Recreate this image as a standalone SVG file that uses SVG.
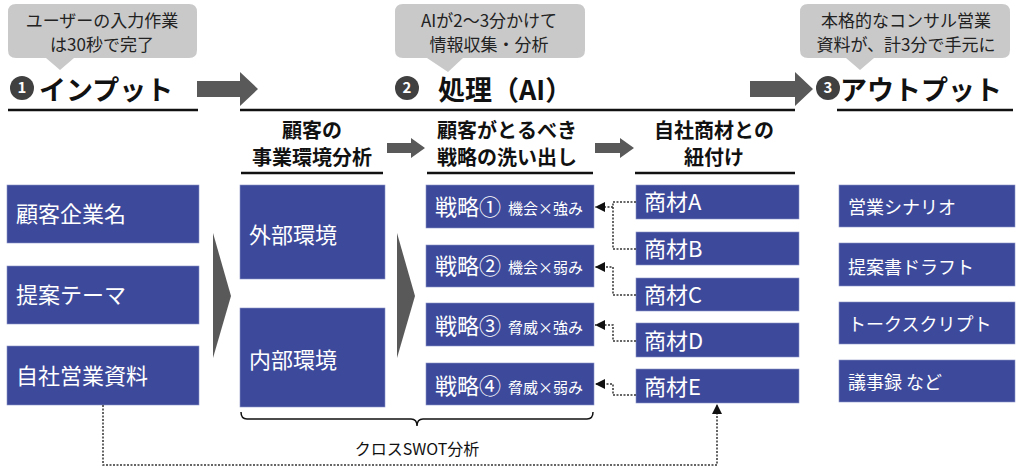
<svg xmlns="http://www.w3.org/2000/svg" width="1024" height="468" viewBox="0 0 1024 468">
<defs>
<style>
text{font-family:"Noto Sans CJK JP","Noto Sans",sans-serif;}
.box{fill:#3D4A9B;stroke:#8A93C8;stroke-width:0.6;}
.bt{fill:#fff;font-size:22px;}
.st{fill:#fff;font-size:15px;}
.ot{fill:#fff;font-size:18px;}
.call{fill:#C9C9C9;}
.ct{fill:#222;font-size:17px;text-anchor:middle;}
.h{fill:#111;font-size:27px;font-weight:bold;}
.sh{fill:#111;font-size:20px;font-weight:bold;text-anchor:middle;}
.ul{stroke:#111;stroke-width:2.5;}
.num{fill:#fff;font-size:15px;font-weight:bold;text-anchor:middle;}
.garrow{fill:#595959;}
.dot{fill:none;stroke:#333;stroke-width:1.5;stroke-dasharray:2 1.5;}
</style>
<marker id="ah" markerUnits="userSpaceOnUse" markerWidth="10" markerHeight="10" refX="10" refY="5" orient="auto">
<path d="M0,0 L10,5 L0,10 z" fill="#111"/>
</marker>
</defs>

<g id="callout1">
<path class="call" d="M16,4 H189 Q197,4 197,12 V50 Q197,58 189,58 H74 L60,70 L46,58 H16 Q8,58 8,50 V12 Q8,4 16,4 Z"/>
<text class="ct" x="102" y="27">ユーザーの入力作業</text>
<text class="ct" x="102" y="51">は30秒で完了</text>
</g>
<g id="callout2">
<path class="call" d="M403,4 H577 Q585,4 585,12 V50 Q585,58 577,58 H463 L448,72 L427,58 H403 Q395,58 395,50 V12 Q395,4 403,4 Z"/>
<text class="ct" x="489" y="27">AIが2～3分かけて</text>
<text class="ct" x="489" y="51">情報収集・分析</text>
</g>
<g id="callout3">
<path class="call" d="M808,4 H1002 Q1010,4 1010,12 V50 Q1010,58 1002,58 H874 L860,70 L846,58 H808 Q800,58 800,50 V12 Q800,4 808,4 Z"/>
<text class="ct" x="906" y="27">本格的なコンサル営業</text>
<text class="ct" x="906" y="51">資料が、計3分で手元に</text>
</g>

<g id="header1">
<circle cx="22" cy="88" r="12" fill="#404040"/>
<text class="num" x="22" y="93">1</text>
<text class="h" x="39" y="100">インプット</text>
<line class="ul" x1="8" y1="110" x2="198" y2="110"/>
</g>
<g id="header2">
<circle cx="407" cy="88" r="12" fill="#404040"/>
<text class="num" x="407" y="93">2</text>
<text class="h" x="438" y="100">処理（AI）</text>
<line class="ul" x1="240" y1="110" x2="795" y2="110"/>
</g>
<g id="header3">
<circle cx="828" cy="88" r="12" fill="#404040"/>
<text class="num" x="828" y="93">3</text>
<text class="h" x="840" y="100">アウトプット</text>
<line class="ul" x1="837" y1="110" x2="1013" y2="110"/>
</g>

<g id="sub1">
<text class="sh" x="312" y="138">顧客の</text>
<text class="sh" x="312" y="165">事業環境分析</text>
<line class="ul" x1="241" y1="173" x2="383" y2="173"/>
</g>
<g id="sub2">
<text class="sh" x="507" y="138">顧客がとるべき</text>
<text class="sh" x="507" y="165">戦略の洗い出し</text>
<line class="ul" x1="427" y1="173" x2="593" y2="173"/>
</g>
<g id="sub3">
<text class="sh" x="714" y="138">自社商材との</text>
<text class="sh" x="714" y="165">紐付け</text>
<line class="ul" x1="635" y1="173" x2="795" y2="173"/>
</g>

<g id="bigarrows">
<polygon class="garrow" points="197,81 240,81 240,72 258,89 240,106 240,97 197,97"/>
<polygon class="garrow" points="750,81 795,81 795,72 813,89 795,106 795,97 750,97"/>
<polygon class="garrow" points="387,143 411,143 411,138 425,148 411,158 411,153 387,153"/>
<polygon class="garrow" points="595,143 620,143 620,138 634,148 620,158 620,153 595,153"/>
<polygon class="garrow" points="213,233 231,296 213,358"/>
<polygon class="garrow" points="397,233 415,296 397,358"/>
</g>

<g id="in1"><rect class="box" x="7" y="185" width="192" height="58"/><text class="bt" x="16" y="222">顧客企業名</text></g>
<g id="in2"><rect class="box" x="7" y="266" width="192" height="58"/><text class="bt" x="16" y="303">提案テーマ</text></g>
<g id="in3"><rect class="box" x="7" y="346" width="192" height="59"/><text class="bt" x="16" y="384">自社営業資料</text></g>

<g id="ext"><rect class="box" x="240" y="185" width="145" height="94"/><text class="bt" x="249" y="243">外部環境</text></g>
<g id="int"><rect class="box" x="240" y="308" width="145" height="99"/><text class="bt" x="249" y="368">内部環境</text></g>

<g id="s1"><rect class="box" x="426" y="185" width="168" height="43"/><text class="bt" x="435" y="215">戦略①</text><text class="st" x="508" y="214">機会×強み</text></g>
<g id="s2"><rect class="box" x="426" y="245" width="168" height="42"/><text class="bt" x="435" y="274">戦略②</text><text class="st" x="508" y="273">機会×弱み</text></g>
<g id="s3"><rect class="box" x="426" y="303" width="168" height="43"/><text class="bt" x="435" y="334">戦略③</text><text class="st" x="508" y="333">脅威×強み</text></g>
<g id="s4"><rect class="box" x="426" y="363" width="168" height="42"/><text class="bt" x="435" y="394">戦略④</text><text class="st" x="508" y="393">脅威×弱み</text></g>

<g id="pA"><rect class="box" x="636" y="185" width="163" height="34"/><text class="bt" x="644" y="210">商材A</text></g>
<g id="pB"><rect class="box" x="636" y="232" width="163" height="33"/><text class="bt" x="644" y="257">商材B</text></g>
<g id="pC"><rect class="box" x="636" y="278" width="163" height="33"/><text class="bt" x="644" y="303">商材C</text></g>
<g id="pD"><rect class="box" x="636" y="323" width="163" height="34"/><text class="bt" x="644" y="349">商材D</text></g>
<g id="pE"><rect class="box" x="636" y="369" width="163" height="34"/><text class="bt" x="644" y="395">商材E</text></g>

<g id="o1"><rect class="box" x="839" y="185" width="176" height="42"/><text class="ot" x="848" y="214">営業シナリオ</text></g>
<g id="o2"><rect class="box" x="839" y="243" width="176" height="43"/><text class="ot" x="848" y="274">提案書ドラフト</text></g>
<g id="o3"><rect class="box" x="839" y="302" width="176" height="42"/><text class="ot" x="848" y="331">トークスクリプト</text></g>
<g id="o4"><rect class="box" x="839" y="360" width="176" height="42"/><text class="ot" x="848" y="389">議事録 など</text></g>

<g id="swot">
<path d="M241,412 Q241,419 247,419 H411 Q417,419 417,426 Q417,419 423,419 H587 Q593,419 593,412" fill="none" stroke="#111" stroke-width="1.5"/>
<text x="417" y="455" font-size="16" fill="#111" text-anchor="middle">クロスSWOT分析</text>
</g>

<g id="connectors">
<path class="dot" d="M636,202 H613 V207 H595" marker-end="url(#ah)"/>
<path class="dot" d="M636,249 H613 V207"/>
<path class="dot" d="M636,295 H613 V267 H595" marker-end="url(#ah)"/>
<path class="dot" d="M636,341 H613 V325 H595" marker-end="url(#ah)"/>
<path class="dot" d="M636,395 H613 V384 H595" marker-end="url(#ah)"/>
<path class="dot" d="M103,405 V465 H717 V404" marker-end="url(#ah)"/>
</g>
</svg>
